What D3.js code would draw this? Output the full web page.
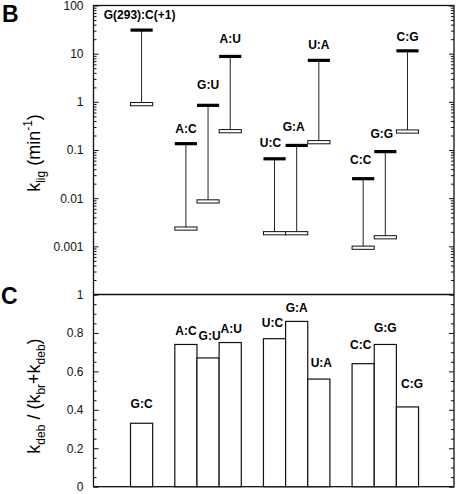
<!DOCTYPE html>
<html>
<head>
<meta charset="utf-8">
<script src="https://cdn.jsdelivr.net/npm/d3@7"></script>
<style>
  html, body { margin: 0; padding: 0; background: #fff; }
  svg { display: block; font-family: "Liberation Sans", Arial, Helvetica, sans-serif; }
</style>
</head>
<body>
<svg id="chart" width="462" height="494"></svg>
<script>
// ---------- data ----------
const categories = ["G:C", "A:C", "G:U", "A:U", "U:C", "G:A", "U:A", "C:C", "G:G", "C:G"];
const groupIndex = [0, 1, 1, 1, 2, 2, 2, 3, 3, 3];
const topLabels  = ["G(293):C(+1)", "A:C", "G:U", "A:U", "U:C", "G:A", "U:A", "C:C", "G:G", "C:G"];
const kligHigh   = [31, 0.136, 0.85, 8.8, 0.066, 0.125, 7.3, 0.0255, 0.093, 11.5];
const kligLow    = [0.9, 0.00235, 0.0086, 0.247, 0.00188, 0.00188, 0.146, 0.00094, 0.00155, 0.243];
const debFraction = [0.33, 0.74, 0.67, 0.75, 0.77, 0.86, 0.56, 0.64, 0.74, 0.415];
const logTickValues = [0.001, 0.01, 0.1, 1, 10, 100];
const logTickLabels = ["0.001", "0.01", "0.1", "1", "10", "100"];
const linTickValues = [0, 0.2, 0.4, 0.6, 0.8, 1];
const linTickLabels = ["0", "0.2", "0.4", "0.6", "0.8", "1"];

// label nudges (style only): [dx, extra lift]
const topNudge = [[-2,0],[0,0],[0,5],[0,2],[-4,0.5],[-3,3],[0,0],[-2.5,4],[-3.5,3],[0,-1]];
const botNudge = [[0,6],[0,0],[1.5,8.5],[1,1],[-2,3],[0,0],[2.5,3],[-2.5,6],[0,3.5],[4.5,9.5]];

// ---------- layout ----------
const svg = d3.select("#chart");
const L = 93.5, R = 454, T = 5.5, MID = 294.5, B = 486.7;
const slots = categories.map((c, i) => i + groupIndex[i]);

const x = d3.scaleLinear().domain([-2.17, 14.1]).range([L, R]);
const bw = x(1) - x(0);
const yTop = d3.scaleLog().domain([1e-4, 100]).range([MID, T]);
const yBot = d3.scaleLinear().domain([0, 1]).range([B, MID]);

// ---------- axes ----------
function styleAxis(g) {
  g.select(".domain").remove();
  g.selectAll("line").attr("stroke", "#111").attr("stroke-width", 1);
  g.selectAll("text").attr("fill", "#111").style("font-size", "12px")
    .style("font-family", '"Liberation Sans", Arial, sans-serif');
}
const minorLog = yTop.ticks().filter(v => !logTickValues.some(m => Math.abs(m - v) / v < 1e-6));
// top left
svg.append("g").attr("transform", `translate(${L},0)`)
  .call(d3.axisLeft(yTop).tickValues(logTickValues).tickFormat((d, i) => logTickLabels[i])
    .tickSizeInner(-5).tickSizeOuter(0).tickPadding(10)).call(styleAxis);
svg.append("g").attr("transform", `translate(${L},0)`)
  .call(d3.axisLeft(yTop).tickValues(minorLog).tickFormat("").tickSizeInner(-3).tickSizeOuter(0)).call(styleAxis);
// top right
svg.append("g").attr("transform", `translate(${R},0)`)
  .call(d3.axisRight(yTop).tickValues(logTickValues).tickFormat("").tickSizeInner(-5).tickSizeOuter(0)).call(styleAxis);
svg.append("g").attr("transform", `translate(${R},0)`)
  .call(d3.axisRight(yTop).tickValues(minorLog).tickFormat("").tickSizeInner(-3).tickSizeOuter(0)).call(styleAxis);

const minorLin = yBot.ticks(20).filter(v => !linTickValues.some(m => Math.abs(m - v) < 1e-6));
svg.append("g").attr("transform", `translate(${L},0)`)
  .call(d3.axisLeft(yBot).tickValues(linTickValues).tickFormat((d, i) => linTickLabels[i])
    .tickSizeInner(-5).tickSizeOuter(0).tickPadding(10)).call(styleAxis);
svg.append("g").attr("transform", `translate(${L},0)`)
  .call(d3.axisLeft(yBot).tickValues(minorLin).tickFormat("").tickSizeInner(-3).tickSizeOuter(0)).call(styleAxis);
svg.append("g").attr("transform", `translate(${R},0)`)
  .call(d3.axisRight(yBot).tickValues(linTickValues).tickFormat("").tickSizeInner(-5).tickSizeOuter(0)).call(styleAxis);
svg.append("g").attr("transform", `translate(${R},0)`)
  .call(d3.axisRight(yBot).tickValues(minorLin).tickFormat("").tickSizeInner(-3).tickSizeOuter(0)).call(styleAxis);

// frame
svg.append("rect").attr("x", L).attr("y", T).attr("width", R - L).attr("height", B - T)
  .attr("fill", "none").attr("stroke", "#111").attr("stroke-width", 1.3);
svg.append("line").attr("x1", L).attr("x2", R).attr("y1", MID).attr("y2", MID)
  .attr("stroke", "#111").attr("stroke-width", 1.3);

// ---------- top panel: ranges ----------
const gTop = svg.append("g");
categories.forEach((c, i) => {
  const cx = x(slots[i]);
  gTop.append("line").attr("x1", cx).attr("x2", cx)
    .attr("y1", yTop(kligHigh[i])).attr("y2", yTop(kligLow[i]))
    .attr("stroke", "#222").attr("stroke-width", 1);
  gTop.append("rect").attr("x", cx - bw / 2).attr("y", yTop(kligLow[i]) - 1.5)
    .attr("width", bw).attr("height", 3.2)
    .attr("fill", "#fff").attr("stroke", "#111").attr("stroke-width", 1);
  gTop.append("rect").attr("x", cx - bw / 2).attr("y", yTop(kligHigh[i]) - 1.5)
    .attr("width", bw).attr("height", 3.2).attr("fill", "#000");
  gTop.append("text").attr("x", cx + topNudge[i][0])
    .attr("y", yTop(kligHigh[i]) - 11 - topNudge[i][1])
    .attr("text-anchor", "middle").style("font-size", "12px").style("font-weight", "bold")
    .text(topLabels[i]);
});

// ---------- bottom panel: bars ----------
const gBot = svg.append("g");
categories.forEach((c, i) => {
  const cx = x(slots[i]);
  gBot.append("rect").attr("x", cx - bw / 2).attr("y", yBot(debFraction[i]))
    .attr("width", bw).attr("height", yBot(0) - yBot(debFraction[i]))
    .attr("fill", "#fff").attr("stroke", "#111").attr("stroke-width", 1.2);
  gBot.append("text").attr("x", cx + botNudge[i][0])
    .attr("y", yBot(debFraction[i]) - 9 - botNudge[i][1])
    .attr("text-anchor", "middle").style("font-size", "12px").style("font-weight", "bold")
    .text(c);
});

// ---------- panel letters ----------
svg.append("text").attr("x", 2).attr("y", 22).style("font-size", "23px").style("font-weight", "bold").text("B");
svg.append("text").attr("x", 1).attr("y", 304).style("font-size", "23px").style("font-weight", "bold").text("C");

// ---------- axis titles ----------
const t1 = svg.append("text").attr("transform", `translate(40,153) rotate(-90)`)
  .attr("text-anchor", "middle").style("font-size", "18px");
t1.append("tspan").text("k");
t1.append("tspan").attr("dy", 5).style("font-size", "12px").text("lig");
t1.append("tspan").attr("dy", -5).text(" (min");
t1.append("tspan").attr("dy", -8).style("font-size", "12px").text("-1");
t1.append("tspan").attr("dy", 8).text(")");

const t2 = svg.append("text").attr("transform", `translate(40,396) rotate(-90)`)
  .attr("text-anchor", "middle").style("font-size", "18px");
t2.append("tspan").text("k");
t2.append("tspan").attr("dy", 5).style("font-size", "12px").text("deb");
t2.append("tspan").attr("dy", -5).text(" / (k");
t2.append("tspan").attr("dy", 5).style("font-size", "12px").text("br");
t2.append("tspan").attr("dy", -5).text("+k");
t2.append("tspan").attr("dy", 5).style("font-size", "12px").text("deb");
t2.append("tspan").attr("dy", -5).text(")");
</script>
</body>
</html>
